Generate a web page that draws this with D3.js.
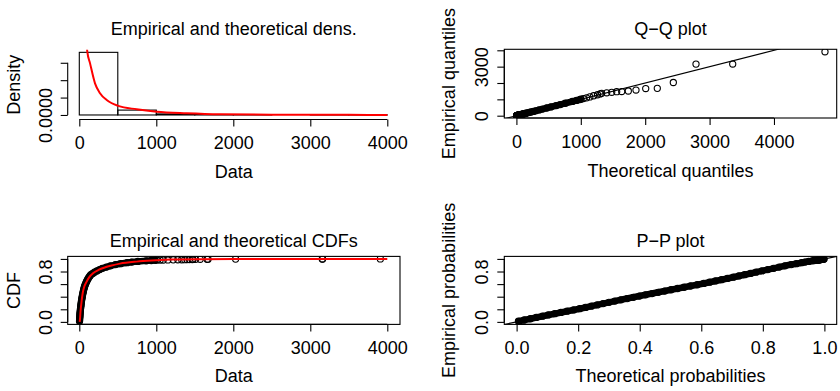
<!DOCTYPE html>
<html><head><meta charset="utf-8">
<script src="https://cdn.jsdelivr.net/npm/d3@7"></script>
<style>
body{margin:0;background:#fff}
svg text{font-family:"Liberation Sans",Arial,Helvetica,sans-serif;fill:#000}
</style>
</head><body>
<svg id="c" width="840" height="391"></svg>
<script>
// ---------------- data ----------------
const histBreaks = [0,500,1000,1500,2000,2500,3000,3500,4000];
const histDensity = [0.0018,0.00014,0.00003,0.000012,0.000002,0,0.000004,0.000002];
const densCurveX = [90,104,139,204,269,356,506,745,1005,1395,1827,2500,3000,3500,4000];
const densCurveY = [0.0022,0.00182,0.00149,0.00091,0.000624,0.00043,0.00026,0.000164,0.000095,0.00005,0.00002,0.000008,0.000005,0.000003,0.000002];
const cdfCurveX = [5,10,15,22,30,44,60,96,130,182,250,312,420,529,745,1000,1178,1600,2000,3000,4000];
const cdfCurveP = [0,0.06,0.15,0.24,0.33,0.455,0.54,0.64,0.71,0.776,0.825,0.856,0.895,0.925,0.957,0.978,0.99,0.996,0.998,0.9995,1.0];
// empirical quantiles (sorted data) and their empirical probabilities
const sampleX = [3,4,5,6.5,7.5,8.5,9.5,11,12.5,14,16,18,20,22,24,26,28.5,31,34,36.5,39.5,42.5,46,49.5,53,57,61.5,66,71,77,84,91,98,107,116,126,138,150,174,198,228,264,300,352,404,470,535,620,680,760,870,935,985,1010,1050,1090,1150,1220,1280,1330,1370,1400,1430,1468,1476,1510,1570,1660,1672,2030,3155,3160,3910];
const empP = [0.01,0.03,0.05,0.07,0.09,0.11,0.13,0.15,0.17,0.19,0.21,0.23,0.25,0.27,0.29,0.31,0.33,0.35,0.37,0.39,0.41,0.43,0.45,0.47,0.49,0.51,0.53,0.55,0.57,0.59,0.61,0.63,0.65,0.67,0.69,0.71,0.73,0.75,0.77,0.79,0.81,0.83,0.85,0.87,0.89,0.91,0.925,0.94,0.95,0.96,0.97,0.975,0.979,0.981,0.982,0.983,0.984,0.985,0.986,0.987,0.988,0.989,0.990,0.991,0.992,0.993,0.994,0.995,0.996,0.997,0.998,0.999,1.000];
// theoretical quantiles (Q-Q x) and theoretical probabilities (P-P x)
const theoQ = [3,4,5,6.5,7.5,8.5,9.5,11,12.5,14,16,18,20,22,24,26,28.5,31,34,36.5,39.5,42.5,46,49.5,53,57,61.5,66,71,77,84,91,98,107,116,126,138,150,174,198,228,264,300,352,404,470,535,620,680,760,870,935,985,1000,1040,1090,1140,1200,1260,1300,1324,1402,1480,1557,1635,1738,1857,2008,2188,2437,2789,3359,4792];
const theoP = [0.006,0.025,0.045,0.064,0.084,0.103,0.124,0.144,0.164,0.185,0.205,0.224,0.243,0.262,0.281,0.300,0.319,0.339,0.359,0.379,0.399,0.419,0.440,0.460,0.481,0.502,0.523,0.544,0.565,0.587,0.608,0.627,0.646,0.666,0.685,0.704,0.722,0.741,0.760,0.778,0.797,0.816,0.835,0.853,0.872,0.892,0.909,0.926,0.937,0.949,0.961,0.967,0.972,0.975,0.977,0.978,0.980,0.981,0.982,0.984,0.985,0.986,0.987,0.988,0.990,0.991,0.992,0.993,0.994,0.996,0.997,0.998,0.999];
// ticks
const dataTicks = [0,1000,2000,3000,4000];
const dataTickLabels = ["0","1000","2000","3000","4000"];
const densTicks = [0,0.0005,0.001,0.0015];
const densTickLabels = ["0.0000","","",""];
const qqYTicks = [0,1000,2000,3000,4000];
const qqYTickLabels = ["0","","","3000",""];
const probTicks = [0,0.2,0.4,0.6,0.8,1.0];
const probYTickLabels = ["0.0","","","","0.8",""];
const probXTickLabels = ["0.0","0.2","0.4","0.6","0.8","1.0"];
const denseLimit = 0.98; // overplotted (solid) part of the point clouds

// ---------------- helpers ----------------
const svg = d3.select("#c");
const FS = 18;
const RED = "#ff0000";

function drawAxis(orient, scale, ticks, labels, pos, labelOff) {
  const g = svg.append("g");
  const ax = (orient === "bottom" ? d3.axisBottom(scale) : d3.axisLeft(scale))
    .tickValues(ticks).tickSize(7).tickFormat((d, i) => labels[i]);
  g.attr("transform", orient === "bottom" ? `translate(0,${pos})` : `translate(${pos},0)`).call(ax);
  g.attr("font-size", FS).attr("font-family", null);
  g.select(".domain").remove();
  g.selectAll(".tick line").attr("stroke", "#000").attr("stroke-width", 1.1);
  const a = scale(ticks[0]), b = scale(ticks[ticks.length - 1]);
  if (orient === "bottom") {
    g.append("line").attr("x1", a).attr("x2", b).attr("y1", 0).attr("y2", 0).attr("stroke", "#000").attr("stroke-width", 1.1);
    g.selectAll(".tick text").attr("y", labelOff).attr("dy", null).attr("fill", "#000");
  } else {
    g.append("line").attr("y1", a).attr("y2", b).attr("x1", 0).attr("x2", 0).attr("stroke", "#000").attr("stroke-width", 1.1);
    g.selectAll(".tick text").attr("x", 0).attr("dy", null).attr("y", -labelOff)
      .attr("text-anchor", "middle").attr("transform", "rotate(-90)").attr("fill", "#000");
  }
}
function text(x, y, s, rot) {
  const t = svg.append("text").attr("font-size", FS).attr("text-anchor", "middle").text(s);
  if (rot) t.attr("transform", `translate(${x},${y}) rotate(-90)`);
  else t.attr("x", x).attr("y", y);
}
function clipRect(id, x0, x1, y0, y1) {
  svg.append("clipPath").attr("id", id).append("rect")
    .attr("x", x0).attr("y", Math.min(y0, y1)).attr("width", x1 - x0).attr("height", Math.abs(y1 - y0));
  return `url(#${id})`;
}
function box(x0, x1, y0, y1) {
  svg.append("rect").attr("x", x0).attr("y", y0).attr("width", x1 - x0).attr("height", y1 - y0)
    .attr("fill", "none").attr("stroke", "#000").attr("stroke-width", 1.1);
}
function cloud(g, px, py) {
  const idx = d3.range(sampleX.length);
  const dense = idx.filter(i => empP[i] < denseLimit);
  g.append("path").datum(dense)
    .attr("d", d3.line().x(i => px(i)).y(i => py(i)))
    .attr("fill", "none").attr("stroke", "#000").attr("stroke-width", 6.6)
    .attr("stroke-linecap", "round").attr("stroke-linejoin", "round");
  g.selectAll("circle.pt").data(idx).join("circle").attr("class", "pt")
    .attr("cx", i => px(i)).attr("cy", i => py(i)).attr("r", 3.1)
    .attr("fill", "none").attr("stroke", "#000").attr("stroke-width", 1.1);
}

// ---------------- panel 1: density ----------------
{
  const x = d3.scaleLinear().domain([-150.6, 4165]).range([67.7, 400]);
  const y = d3.scaleLinear().domain([-0.00013, 0.001873]).range([119.5, 49.8]);
  const clip = clipRect("c1", 67.7, 400, 49.8, 119.5);
  const g = svg.append("g").attr("clip-path", clip);
  g.selectAll("rect").data(histDensity).join("rect")
    .attr("x", (d, i) => x(histBreaks[i])).attr("width", (d, i) => x(histBreaks[i + 1]) - x(histBreaks[i]))
    .attr("y", d => y(d)).attr("height", d => y(0) - y(d))
    .attr("fill", "none").attr("stroke", "#000").attr("stroke-width", 1.1);
  g.append("path").datum(d3.range(densCurveX.length))
    .attr("d", d3.line().curve(d3.curveMonotoneX).x(i => x(densCurveX[i])).y(i => y(densCurveY[i])))
    .attr("fill", "none").attr("stroke", RED).attr("stroke-width", 2);
  drawAxis("bottom", x, dataTicks, dataTickLabels, 119.5, 29.5);
  drawAxis("left", y, densTicks, densTickLabels, 67.7, 15.5);
  text(233.8, 35, "Empirical and theoretical dens.");
  text(233.8, 178, "Data");
  text(20, 84.7, "Density", true);
}

// ---------------- panel 2: Q-Q ----------------
{
  const x = d3.scaleLinear().domain([-188, 4974]).range([504.3, 836.7]);
  const y = d3.scaleLinear().domain([-141, 4061]).range([118, 49.3]);
  const clip = clipRect("c2", 504.3, 836.7, 49.3, 118);
  const g = svg.append("g").attr("clip-path", clip);
  cloud(g, i => x(theoQ[i]), i => y(sampleX[i]));
  g.append("line").attr("x1", x(-1000)).attr("y1", y(-1000)).attr("x2", x(6000)).attr("y2", y(6000))
    .attr("stroke", "#000").attr("stroke-width", 1.1);
  box(504.3, 836.7, 49.3, 118);
  drawAxis("bottom", x, dataTicks, dataTickLabels, 118, 29.5);
  drawAxis("left", y, qqYTicks, qqYTickLabels, 504.3, 16.5);
  text(670.5, 35, "Q\u2212Q plot");
  text(670.5, 177, "Theoretical quantiles");
  text(455, 83.6, "Empirical quantiles", true);
}

// ---------------- panel 3: CDF ----------------
{
  const x = d3.scaleLinear().domain([-150.6, 4165]).range([67.7, 400]);
  const y = d3.scaleLinear().domain([-0.04, 1.04]).range([324.4, 256.4]);
  const clip = clipRect("c3", 67.7, 400, 256.4, 324.4);
  const g = svg.append("g").attr("clip-path", clip);
  cloud(g, i => x(sampleX[i]), i => y(empP[i]));
  g.append("path").datum(d3.range(cdfCurveX.length))
    .attr("d", d3.line().curve(d3.curveMonotoneX).x(i => x(cdfCurveX[i])).y(i => y(cdfCurveP[i])))
    .attr("fill", "none").attr("stroke", RED).attr("stroke-width", 2);
  box(67.7, 400, 256.4, 324.4);
  drawAxis("bottom", x, dataTicks, dataTickLabels, 324.4, 29.5);
  drawAxis("left", y, probTicks, probYTickLabels, 67.7, 16);
  text(233.8, 246.5, "Empirical and theoretical CDFs");
  text(233.8, 382, "Data");
  text(20, 290.4, "CDF", true);
}

// ---------------- panel 4: P-P ----------------
{
  const x = d3.scaleLinear().domain([-0.04, 1.04]).range([504.3, 836.7]);
  const y = d3.scaleLinear().domain([-0.04, 1.04]).range([324.4, 256.4]);
  const clip = clipRect("c4", 504.3, 836.7, 256.4, 324.4);
  const g = svg.append("g").attr("clip-path", clip);
  cloud(g, i => x(theoP[i]), i => y(empP[i]));
  g.append("line").attr("x1", x(-0.5)).attr("y1", y(-0.5)).attr("x2", x(1.5)).attr("y2", y(1.5))
    .attr("stroke", "#000").attr("stroke-width", 1.1);
  box(504.3, 836.7, 256.4, 324.4);
  drawAxis("bottom", x, probTicks, probXTickLabels, 324.4, 29.5);
  drawAxis("left", y, probTicks, probYTickLabels, 504.3, 16.5);
  text(670.5, 246.5, "P\u2212P plot");
  text(670.5, 382, "Theoretical probabilities");
  text(455, 290.4, "Empirical probabilities", true);
}
</script>
</body></html>
